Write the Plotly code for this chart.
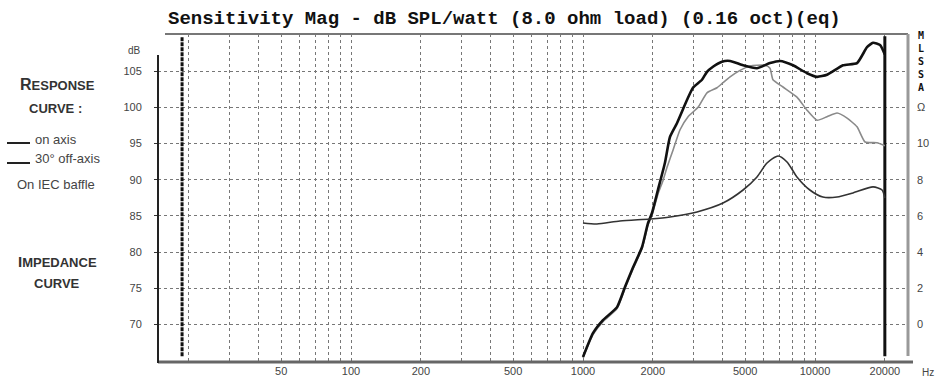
import math
import plotly.graph_objects as go

# ---------------- data ----------------
freq_on = [1000, 1104, 1219, 1402, 1518, 1644, 1797, 1906, 1983, 2104, 2254, 2370, 2541, 2806,
           2979, 3258, 3423, 3633, 3972, 4305, 4898, 5623, 6397, 7068, 8041, 9240, 10200, 11270,
           13210, 15180, 16760, 17790, 19070, 20000]
spl_on = [65.5, 68.8, 70.6, 72.4, 75.2, 77.9, 80.7, 84.0, 85.4, 88.6, 92.3, 95.9, 97.8, 101.0,
          102.7, 103.8, 104.9, 105.6, 106.3, 106.4, 105.8, 105.4, 106.1, 106.4, 105.8, 104.7, 104.2, 104.5,
          105.8, 106.1, 108.3, 108.9, 108.6, 107.3]

freq_off = [1000, 1104, 1219, 1402, 1518, 1644, 1797, 1906, 1983, 2104, 2213, 2303, 2445, 2620,
            2837, 3133, 3423, 3782, 4013, 4305, 4753, 5249, 5623, 6085, 6397, 6590, 7280, 8360,
            9240, 10200, 11270, 12450, 13750, 15180, 16440, 18500, 20000]
spl_off = [65.4, 68.6, 70.4, 72.2, 75.0, 77.7, 80.5, 83.7, 85.1, 88.0, 89.9, 91.7, 94.1, 96.9,
           98.7, 100.0, 102.0, 102.7, 103.4, 104.2, 105.1, 105.7, 105.8, 105.8, 105.4, 103.8, 102.8, 101.4,
           99.6, 98.2, 98.7, 99.2, 98.5, 97.3, 95.2, 95.1, 94.7]

freq_imp = [1000, 1148, 1443, 1945, 2370, 3100, 4013, 4898, 5623, 6210, 6933, 7575, 8360, 9500,
            10810, 12450, 14590, 17790, 19460, 20000]
ohm_imp = [5.61, 5.55, 5.72, 5.83, 5.94, 6.22, 6.71, 7.43, 8.15, 8.92, 9.31, 8.98, 8.15, 7.43,
           7.04, 7.04, 7.27, 7.60, 7.43, 6.99]

limit_freqs = [18.7, 20000]

grid_freqs = [20, 30, 40, 50, 60, 70, 80, 90, 100, 200, 300, 400, 500, 600, 700, 800, 900,
              1000, 2000, 3000, 4000, 5000, 6000, 7000, 8000, 9000, 10000, 20000]
freq_labels = {50: "50", 100: "100", 200: "200", 500: "500", 1000: "1000", 2000: "2000",
               5000: "5000", 10000: "10000", 20000: "20000"}
db_ticks = [70, 75, 80, 85, 90, 95, 100, 105]
ohm_ticks = [0, 2, 4, 6, 8, 10, 12]
ohm_labels = ["0", "2", "4", "6", "8", "10", "\u03a9"]

# ---------------- layout geometry ----------------
W, H = 941, 385
L, R, T, B = 158, 33, 34, 23
PW, PH = W - L - R, H - T - B


def px(x):
    return (x - L) / PW


def py(y):
    return (H - B - y) / PH


x_range = [(158 + 113) / 232, (908 + 113) / 232]
db_range = [64.82, 110.12]
ohm_range = [(db_range[0] - 70) * 0.4, (db_range[1] - 70) * 0.4]

fig = go.Figure()

# limit lines
for f in limit_freqs:
    fig.add_trace(go.Scatter(x=[f, f], y=[65.6, 109.8], mode="lines",
                             line=dict(color="#111", width=3,
                                       dash="solid" if f > 1000 else "4px,1px"),
                             hoverinfo="skip", showlegend=False))

fig.add_trace(go.Scatter(x=freq_off, y=spl_off, mode="lines",
                         line=dict(color="#8a8a8a", width=1.6, shape="spline", smoothing=0.5),
                         showlegend=False))
fig.add_trace(go.Scatter(x=freq_imp, y=ohm_imp, mode="lines", yaxis="y2",
                         line=dict(color="#333", width=1.6, shape="spline", smoothing=0.7),
                         showlegend=False))
fig.add_trace(go.Scatter(x=freq_on, y=spl_on, mode="lines",
                         line=dict(color="#111", width=2.6, shape="spline", smoothing=0.5),
                         showlegend=False))

label_font = dict(family="Liberation Sans, Arial", size=11, color="#444")

fig.update_layout(
    width=W, height=H,
    margin=dict(l=L, r=R, t=T, b=B, pad=0, autoexpand=False),
    paper_bgcolor="white", plot_bgcolor="white",
    showlegend=False,
    xaxis=dict(type="log", range=x_range, tickvals=grid_freqs, automargin=False,
               ticktext=[freq_labels.get(f, "") for f in grid_freqs],
               showgrid=True, gridcolor="#777", griddash="dot", gridwidth=1,
               showline=False, zeroline=False, ticks="", tickfont=label_font,
               ticklabelstandoff=1),
    yaxis=dict(range=db_range, tickvals=db_ticks, showgrid=True, gridcolor="#777",
               griddash="dot", gridwidth=1, zeroline=False, showline=False, automargin=False,
               ticks="outside", ticklen=3, tickcolor="#333", tickfont=label_font,
               ticklabelstandoff=10),
    yaxis2=dict(range=ohm_range, overlaying="y", side="right", tickvals=ohm_ticks,
                ticktext=ohm_labels, showgrid=False, zeroline=False, showline=False,
                automargin=False, ticks="", tickfont=label_font, ticklabelstandoff=8),
)

shapes = [
    dict(type="line", xref="paper", yref="paper", x0=px(165), x1=px(908), y0=py(34), y1=py(34),
         line=dict(color="#777", width=2)),
    dict(type="line", xref="paper", yref="paper", x0=px(908), x1=px(908), y0=py(34), y1=py(356),
         line=dict(color="#999", width=3)),
    dict(type="line", xref="paper", yref="paper", x0=px(158), x1=px(913), y0=py(362), y1=py(362),
         line=dict(color="#666", width=3)),
    dict(type="line", xref="paper", yref="paper", x0=px(158), x1=px(158), y0=py(55), y1=py(363),
         line=dict(color="#222", width=2)),
    dict(type="line", xref="paper", yref="paper", x0=px(7), x1=px(30), y0=py(143), y1=py(143),
         line=dict(color="#222", width=2)),
    dict(type="line", xref="paper", yref="paper", x0=px(7), x1=px(30), y0=py(163), y1=py(163),
         line=dict(color="#222", width=2)),
]
fig.update_layout(shapes=shapes)


def ann(text, x, y, size, xanchor="center", family="Liberation Sans, Arial", color="#333", **kw):
    fig.add_annotation(text=text, xref="paper", yref="paper", x=px(x), y=py(y),
                       xanchor=xanchor, yanchor="middle", showarrow=False,
                       font=dict(family=family, size=size, color=color), **kw)


ann("<b>Sensitivity Mag - dB SPL/watt (8.0 ohm load) (0.16 oct)(eq)</b>", 166, 19, 19,
    xanchor="left", family="Liberation Mono, DejaVu Sans Mono", color="#111")
ann("<b>R<span style='font-size:13px'>ESPONSE</span></b>", 57, 84, 16)
ann("<b><span style='font-size:13px'>CURVE :</span></b>", 56, 108, 13)
ann("on axis", 33, 139, 13, xanchor="left", color="#444")
ann("30\u00b0 off-axis", 33, 158, 13, xanchor="left", color="#444")
ann("On IEC baffle", 56, 184, 13, color="#444")
ann("<b>I<span style='font-size:13px'>MPEDANCE</span></b>", 57, 261, 15)
ann("<b><span style='font-size:13px'>CURVE</span></b>", 57, 283, 13)
ann("dB", 134, 50, 10, color="#444")
ann("Hz", 928, 372, 10, color="#444")
ann("<b>M<br>L<br>S<br>S<br>A</b>", 921, 62, 10, family="DejaVu Sans Mono, Liberation Mono",
    color="#111")

fig.write_html("out.html", config={"displayModeBar": False},
               post_script="document.body.style.margin='0';document.body.style.overflow='hidden';")
